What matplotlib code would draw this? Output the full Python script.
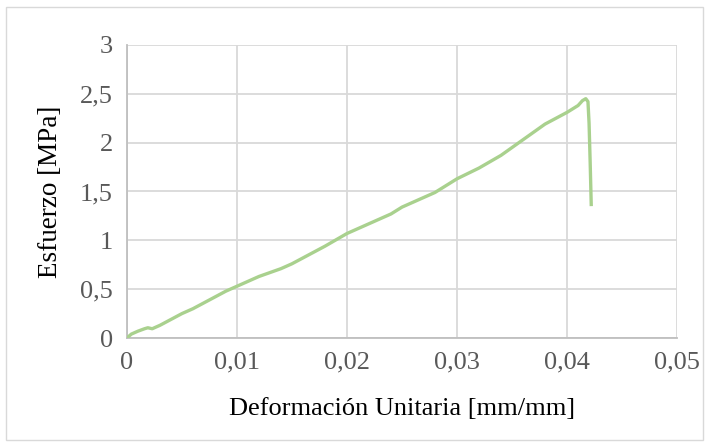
import matplotlib
matplotlib.use("Agg")
import matplotlib.pyplot as plt
from matplotlib.ticker import FuncFormatter

deformacion = [0.0, 0.0004, 0.001, 0.0016, 0.0019, 0.0023, 0.003, 0.004, 0.005,
               0.006, 0.007, 0.008, 0.009, 0.010, 0.012, 0.014, 0.015, 0.016,
               0.018, 0.020, 0.022, 0.024, 0.025, 0.026, 0.028, 0.030, 0.032,
               0.034, 0.035, 0.036, 0.038, 0.040, 0.041, 0.0414, 0.0417,
               0.0419, 0.0420, 0.0421, 0.0422]
esfuerzo = [0.0, 0.04, 0.07, 0.095, 0.105, 0.095, 0.13, 0.19, 0.25,
            0.30, 0.36, 0.42, 0.48, 0.53, 0.63, 0.71, 0.76, 0.82,
            0.94, 1.07, 1.17, 1.27, 1.34, 1.39, 1.49, 1.63, 1.74,
            1.87, 1.95, 2.03, 2.19, 2.31, 2.38, 2.43, 2.45,
            2.42, 2.2, 1.8, 1.35]

x_ticks = [0, 0.01, 0.02, 0.03, 0.04, 0.05]
y_ticks = [0, 0.5, 1, 1.5, 2, 2.5, 3]

plt.rcParams['font.family'] = ['Liberation Serif', 'DejaVu Serif']

fig = plt.figure(figsize=(7.09, 4.45), dpi=100)
fig.patches.append(plt.Rectangle((0.008, 0.012), 0.984, 0.973, transform=fig.transFigure,
                                 fill=False, edgecolor='#D9D9D9', linewidth=1))
ax = fig.add_axes([0.179, 0.2404, 0.776, 0.6586])

ax.plot(deformacion, esfuerzo, color='#A9D18E', linewidth=2.4, solid_capstyle='butt', zorder=3)

ax.set_xlim(0, 0.05)
ax.set_ylim(0, 3)
ax.set_xticks(x_ticks)
ax.set_yticks(y_ticks)

def coma(v, pos):
    s = ('%g' % v)
    return s.replace('.', ',')

ax.xaxis.set_major_formatter(FuncFormatter(coma))
ax.yaxis.set_major_formatter(FuncFormatter(coma))

ax.grid(True, color='#D9D9D9', linewidth=1.3, zorder=0)
for lado in ['top', 'right']:
    ax.spines[lado].set_visible(False)
for lado in ['left', 'bottom']:
    ax.spines[lado].set_color('#BFBFBF')
    ax.spines[lado].set_linewidth(1.3)

ax.tick_params(length=0, labelsize=19, labelcolor='#595959', pad=10)
ax.set_xlabel('Deformación Unitaria [mm/mm]', fontsize=19, color='black', labelpad=17)
ax.set_ylabel('Esfuerzo [MPa]', fontsize=19.5, color='black', labelpad=12)

fig.savefig('out.png', dpi=100)
